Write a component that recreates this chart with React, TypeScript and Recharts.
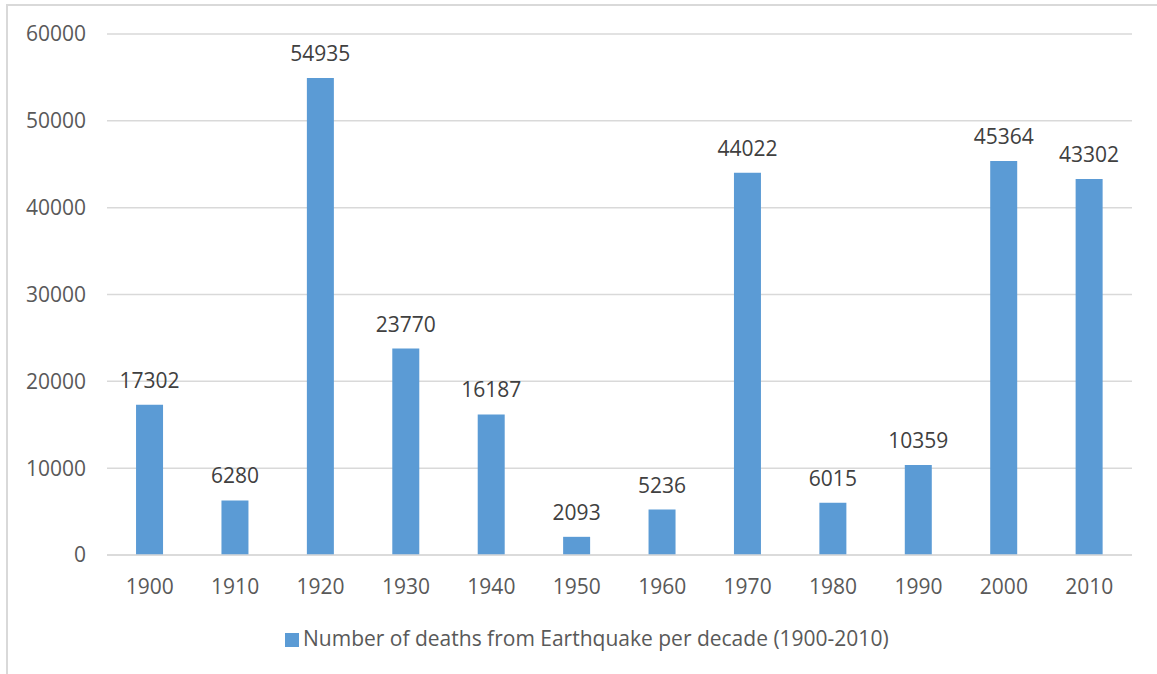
import { Bar, BarChart, CartesianGrid, LabelList, Legend, XAxis, YAxis } from "recharts";

const decades = ["1900", "1910", "1920", "1930", "1940", "1950", "1960", "1970", "1980", "1990", "2000", "2010"];
const deaths = [17302, 6280, 54935, 23770, 16187, 2093, 5236, 44022, 6015, 10359, 45364, 43302];
const yTicks = [0, 10000, 20000, 30000, 40000, 50000, 60000];

const FONT = "'Open Sans', sans-serif";
const TEXT = "#595959";

const data = decades.map((decade, i) => ({ decade, deaths: deaths[i] }));

export default function App() {
  return (
    <div
      style={{
        position: "absolute",
        left: 0,
        top: 0,
        width: 1157,
        height: 674,
        background: "#fff",
        overflow: "hidden",
        fontFamily: FONT,
      }}
    >
      <div
        style={{
          position: "absolute",
          left: 6,
          top: 4,
          width: 1200,
          height: 700,
          borderTop: "2px solid #d9d9d9",
          borderLeft: "2px solid #d9d9d9",
        }}
      />
      <BarChart
        width={1157}
        height={674}
        data={data}
        margin={{ top: 34, right: 25, left: 0, bottom: 49 }}
        barCategoryGap="34%"
        style={{ position: "absolute", left: 0, top: 0 }}
      >
        <CartesianGrid vertical={false} stroke="#d9d9d9" strokeWidth={1.5} />
        <XAxis
          dataKey="decade"
          axisLine={{ stroke: "#d9d9d9", strokeWidth: 1.5 }}
          tickLine={false}
          tickSize={0}
          tickMargin={24}
          height={40}
          tick={{ fill: TEXT, fontSize: 21, fontFamily: FONT }}
        />
        <YAxis
          width={107}
          domain={[0, 60000]}
          ticks={yTicks}
          axisLine={false}
          tickLine={false}
          tickSize={0}
          tickMargin={21}
          tick={{ fill: TEXT, fontSize: 21, fontFamily: FONT }}
        />
        <Legend
          align="left"
          verticalAlign="bottom"
          iconType="square"
          iconSize={14}
          wrapperStyle={{ left: 285, top: 624, width: 700, height: 30, fontFamily: FONT, fontSize: 21 }}
          formatter={(value) => <span style={{ color: TEXT }}>{value}</span>}
        />
        <Bar
          dataKey="deaths"
          name="Number of deaths from Earthquake per decade (1900-2010)"
          fill="#5b9bd5"
          isAnimationActive={false}
        >
          <LabelList
            dataKey="deaths"
            position="top"
            offset={17}
            style={{ fill: "#404040", fontSize: 21, fontFamily: FONT }}
          />
        </Bar>
      </BarChart>
    </div>
  );
}
